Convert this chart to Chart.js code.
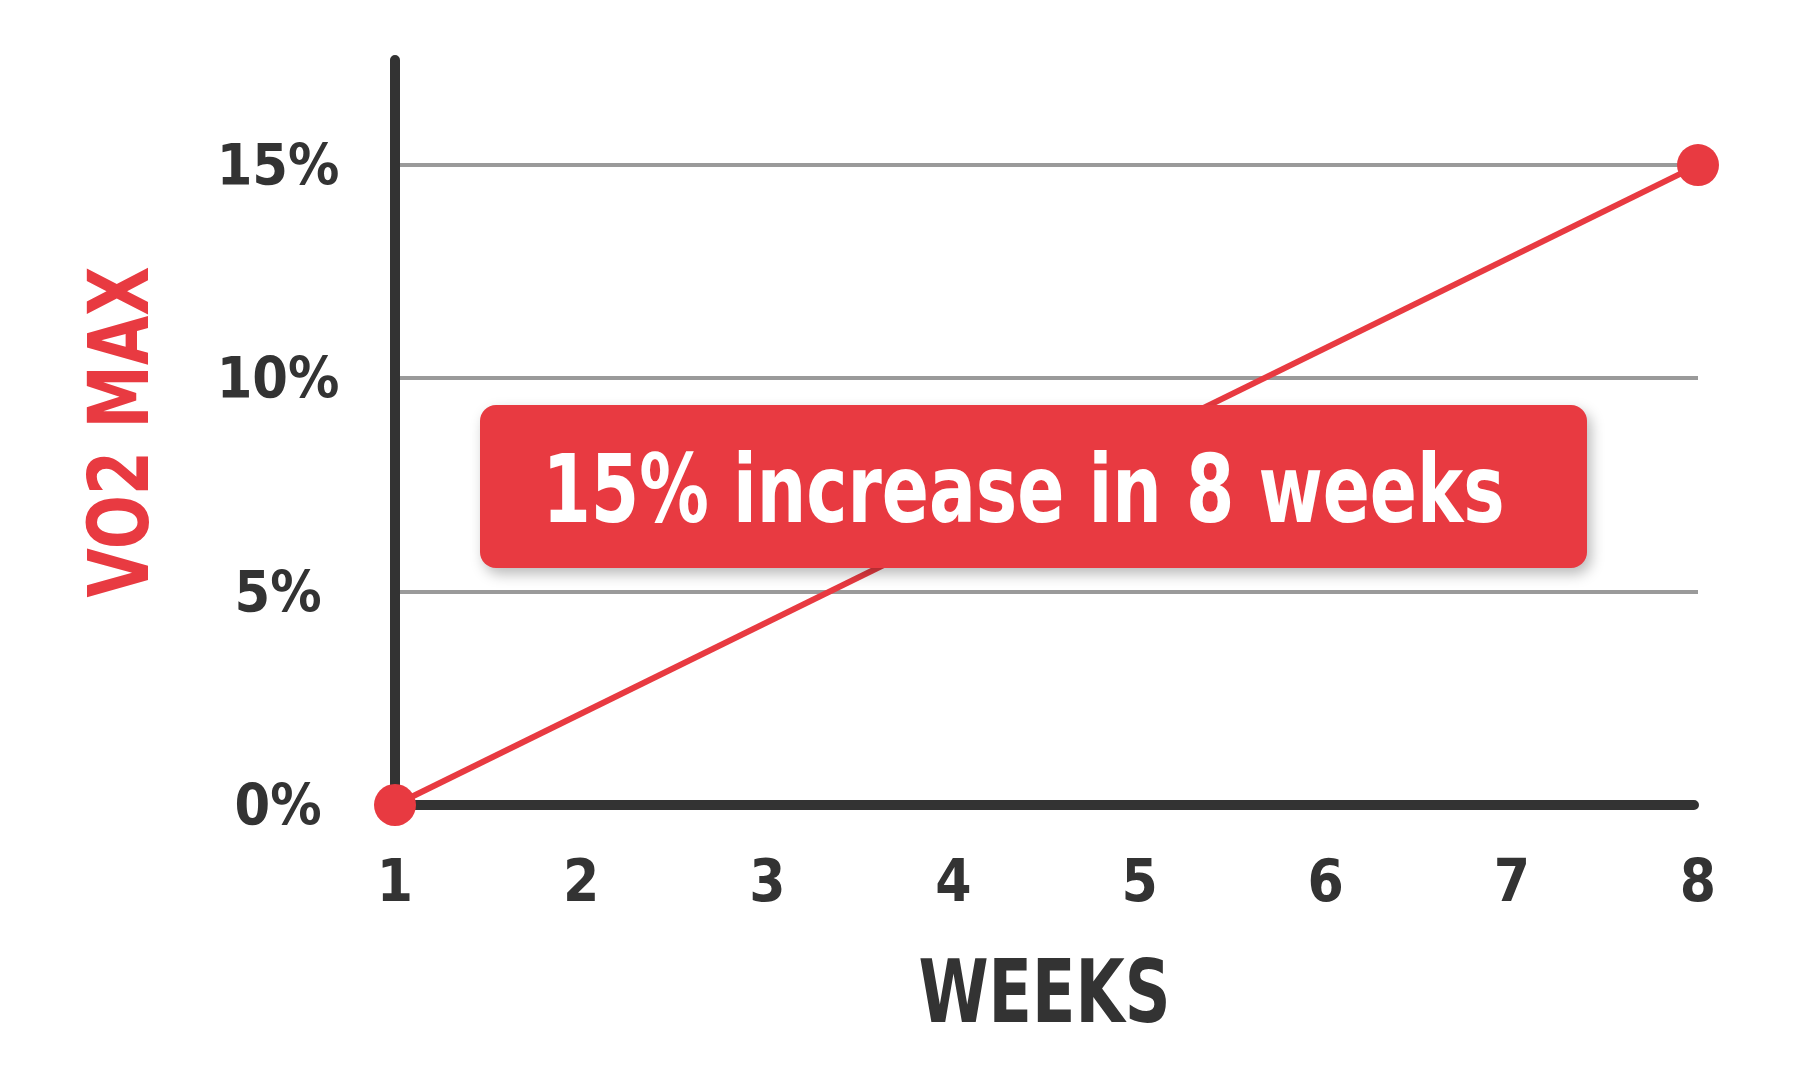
<!DOCTYPE html>
<html><head><meta charset="utf-8">
<script src="https://cdn.jsdelivr.net/npm/chart.js@4.4.1/dist/chart.umd.min.js"></script>
<style>html,body{margin:0;padding:0;background:#fff;} canvas{display:block;}</style>
</head><body>
<canvas id="c" width="1800" height="1083"></canvas>
<script>
// ---- data ----
const weeks = ['1', '2', '3', '4', '5', '6', '7', '8'];
const vo2Increase = [0, null, null, null, null, null, null, 15];
const yTickStep = 5;
const calloutText = '15% increase in 8 weeks';
const xTitle = 'WEEKS';
const yTitle = 'VO2 MAX';

// ---- styles ----
const RED = '#E83A41';
const DARK = '#333333';
const GRID = '#9a9a9a';

function pickFont(cands) {
  const ctx = document.createElement('canvas').getContext('2d');
  const s = 'WEEKS 15% increase in 8 weeks VO2 MAX';
  for (const f of cands) {
    for (const base of ['monospace', 'serif']) {
      ctx.font = 'bold 40px ' + base; const w0 = ctx.measureText(s).width;
      ctx.font = 'bold 40px "' + f + '", ' + base; const w1 = ctx.measureText(s).width;
      if (Math.abs(w0 - w1) > 0.5) return f;
    }
  }
  return 'sans-serif';
}
const FONT = pickFont(['Liberation Sans Narrow', 'DejaVu Sans Condensed', 'Roboto', 'Liberation Sans']);

const Y_AXIS_W = 395;       // width of the left axis box
const Y_LABEL_CX = 278;     // center of y tick labels
const X_AXIS_H = 278;       // height of the bottom axis box
const yTickFont = {family: FONT, size: 57, weight: 'bold'};
const CAP = 0.729;          // cap-height ratio

function measure(txt, font) {
  const ctx = document.createElement('canvas').getContext('2d');
  ctx.font = `${font.weight} ${font.size}px "${font.family}"`;
  return ctx.measureText(txt).width;
}
const yLabelW = measure('15%', yTickFont);

// draws text with given cap height, fitted to a given width, centered at (cx, cy)
function fitText(ctx, txt, cx, cy, capH, width, color, rot) {
  const size = capH / CAP;
  ctx.save();
  ctx.font = `bold ${size}px "${FONT}"`;
  const w = ctx.measureText(txt).width;
  ctx.translate(cx, cy);
  if (rot) ctx.rotate(rot);
  ctx.scale(width / w, 1);
  ctx.fillStyle = color;
  ctx.textAlign = 'center';
  ctx.textBaseline = 'alphabetic';
  ctx.fillText(txt, 0, capH / 2);
  ctx.restore();
}

const axesPlugin = {
  id: 'axesLines',
  beforeDatasetsDraw(chart) {
    const {ctx, chartArea: {left, top, right, bottom}} = chart;
    ctx.save();
    ctx.strokeStyle = DARK;
    ctx.lineWidth = 10;
    ctx.lineCap = 'round';
    ctx.lineJoin = 'miter';
    ctx.beginPath();
    ctx.moveTo(left, top + 5);
    ctx.lineTo(left, bottom);
    ctx.lineTo(right - 4, bottom);
    ctx.stroke();
    ctx.restore();
  },
  afterDraw(chart) {
    const {ctx, chartArea: {left, top, right, bottom}} = chart;
    // axis titles
    fitText(ctx, xTitle, (left + right) / 2 - 2, bottom + 185, 63, 252, DARK, 0);
    fitText(ctx, yTitle, left - 278, (top + bottom) / 2 + 2, 61, 331, RED, -Math.PI / 2);
  }
};

const calloutPlugin = {
  id: 'callout',
  afterDatasetsDraw(chart) {
    const {ctx, chartArea: {left, top}} = chart;
    const bx = left + 85, by = top + 350, bw = 1107, bh = 163, r = 16;
    ctx.save();
    ctx.shadowColor = 'rgba(0,0,0,0.28)';
    ctx.shadowBlur = 14;
    ctx.shadowOffsetX = 4;
    ctx.shadowOffsetY = 6;
    ctx.fillStyle = RED;
    ctx.beginPath();
    ctx.roundRect(bx, by, bw, bh, r);
    ctx.fill();
    ctx.restore();

    fitText(ctx, calloutText, bx + bw / 2 - 10, by + 82, 69, 962, '#ffffff', 0);
  }
};

new Chart(document.getElementById('c'), {
  type: 'line',
  data: {
    labels: weeks,
    datasets: [{
      data: vo2Increase,
      borderColor: RED,
      backgroundColor: RED,
      borderWidth: 6,
      pointRadius: 21,
      pointHoverRadius: 21,
      pointBorderWidth: 0,
      pointBackgroundColor: RED,
      spanGaps: true,
      tension: 0,
      clip: false
    }]
  },
  options: {
    responsive: false,
    devicePixelRatio: 1,
    animation: false,
    events: [],
    layout: {padding: {top: 55, right: 102, left: 0, bottom: 0}},
    plugins: {legend: {display: false}, tooltip: {enabled: false}},
    scales: {
      x: {
        type: 'category',
        offset: false,
        grid: {display: false, drawTicks: false},
        border: {display: false},
        ticks: {
          color: DARK,
          font: {family: FONT, size: 58, weight: 'bold'},
          padding: 46,
          maxRotation: 0,
          autoSkip: false
        },
        afterFit(scale) { scale.height = X_AXIS_H; scale.paddingLeft = 0; scale.paddingRight = 0; }
      },
      y: {
        type: 'linear',
        min: 0,
        max: 17.58,
        grid: {
          drawTicks: false,
          lineWidth: 4,
          color: (c) => (c.tick && c.tick.value === 0) ? 'rgba(0,0,0,0)' : GRID
        },
        border: {display: false},
        ticks: {
          stepSize: yTickStep,
          includeBounds: false,
          color: DARK,
          font: yTickFont,
          crossAlign: 'center',
          labelOffset: 5,
          padding: Y_AXIS_W - Y_LABEL_CX - yLabelW / 2,
          callback: (v) => (v % yTickStep === 0) ? v + '%' : ''
        },
        afterFit(scale) { scale.width = Y_AXIS_W; scale.paddingTop = 0; scale.paddingBottom = 0; }
      }
    }
  },
  plugins: [axesPlugin, calloutPlugin]
});
</script>
</body></html>
